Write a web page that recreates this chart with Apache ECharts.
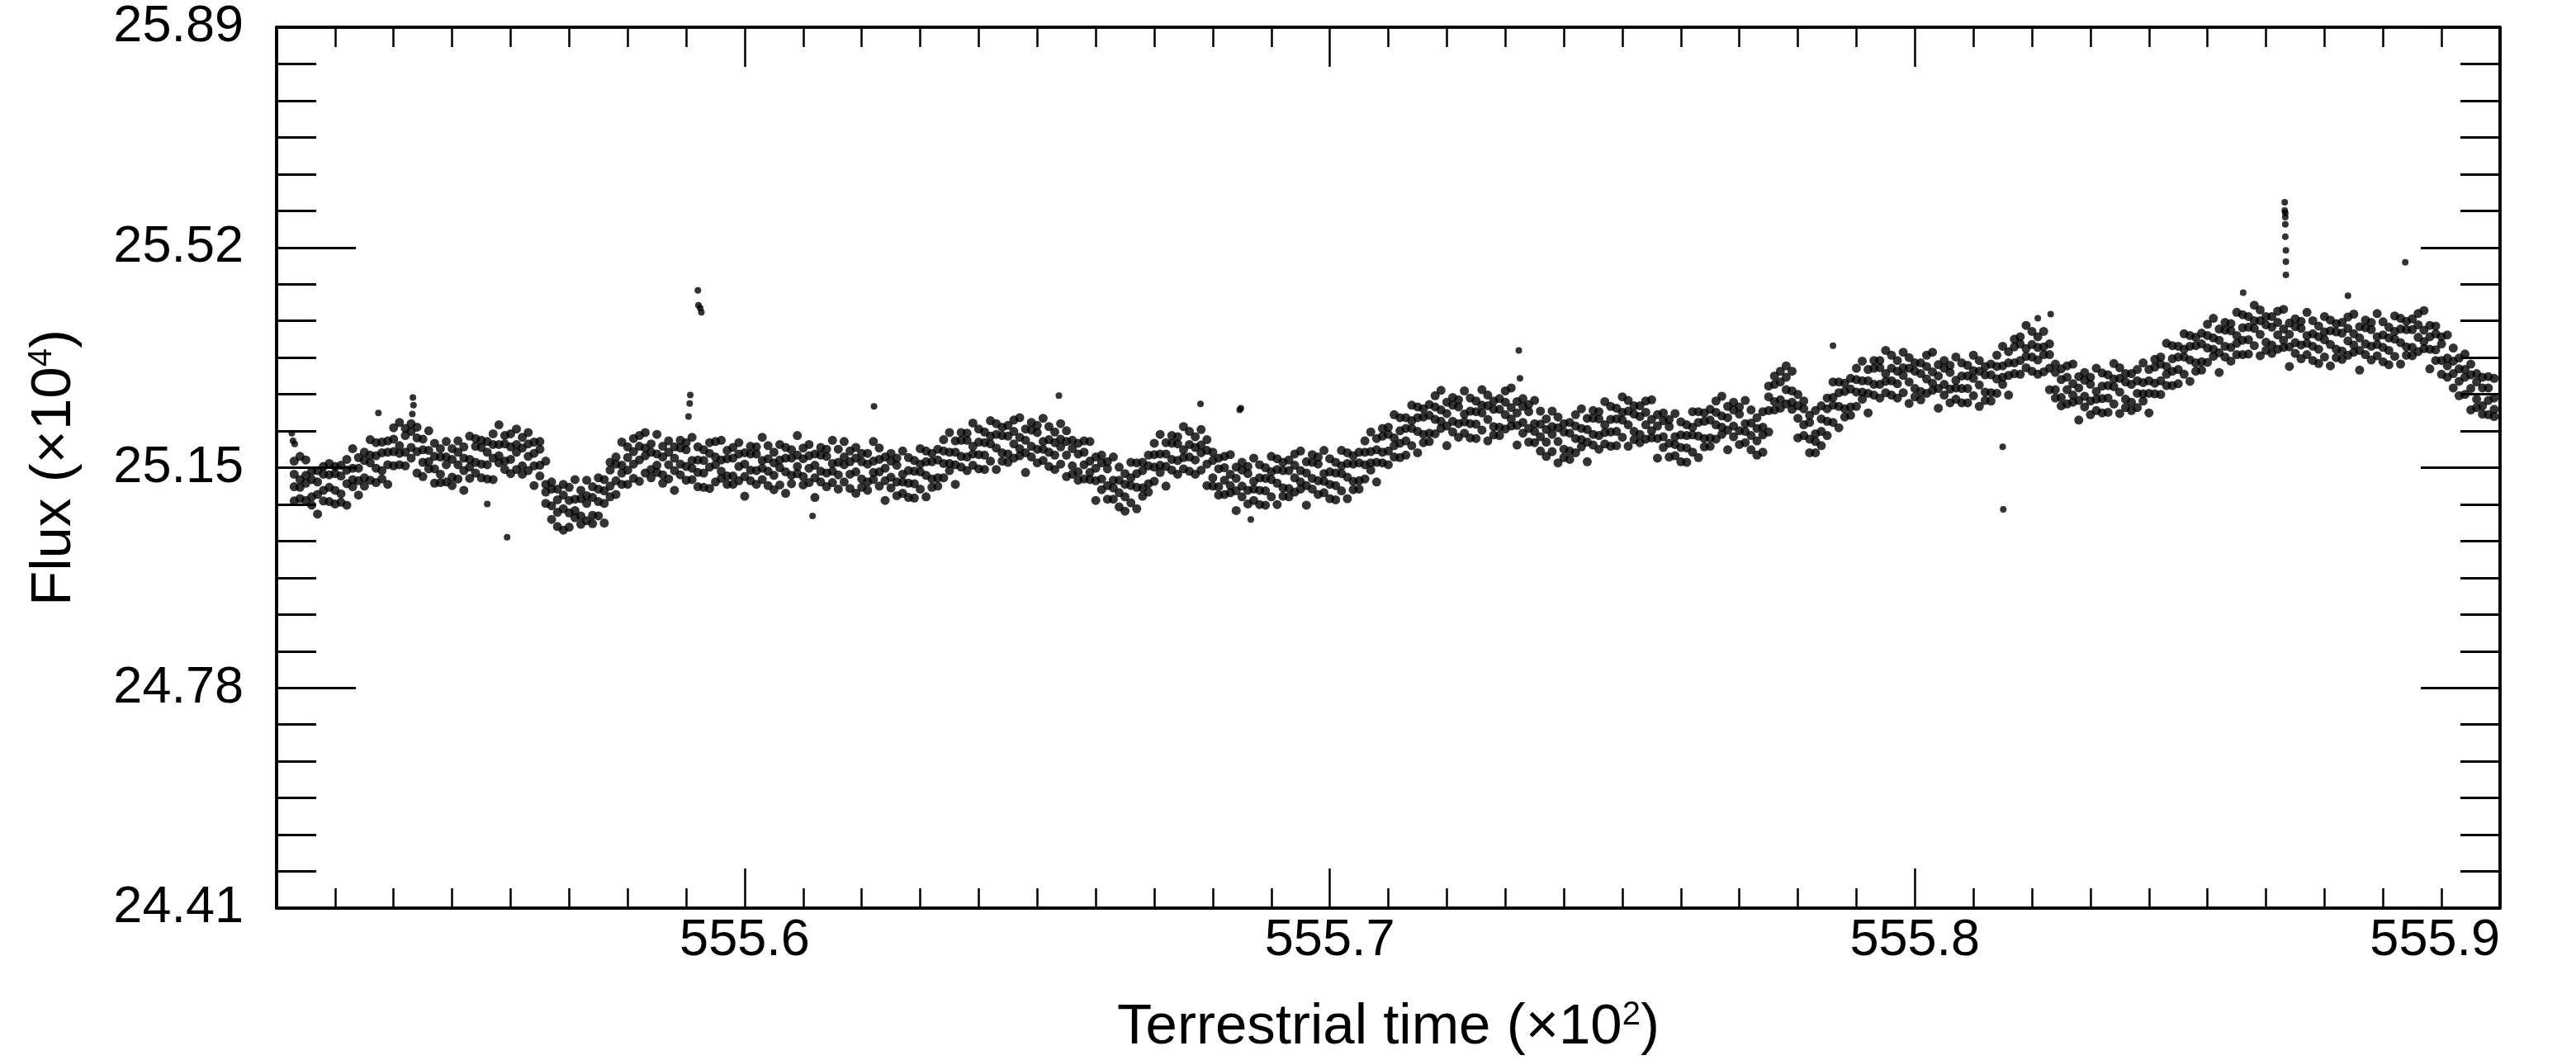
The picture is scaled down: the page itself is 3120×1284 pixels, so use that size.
<!DOCTYPE html>
<html>
<head>
<meta charset="utf-8">
<title>Flux vs terrestrial time</title>
<script src="https://cdn.jsdelivr.net/npm/echarts@6.0.0/dist/echarts.min.js"></script>
<style>
  html, body { margin: 0; padding: 0; background: #fff; }
  #chart { width: 3120px; height: 1284px; }
</style>
</head>
<body>
<div id="chart"></div>
<script>
// time (x10^2), one column per 0.001
const time = [
  555.523,555.524,555.525,555.526,555.527,555.528,555.529,555.530,555.531,555.532,
  555.533,555.534,555.535,555.536,555.537,555.538,555.539,555.540,555.541,555.542,
  555.543,555.544,555.545,555.546,555.547,555.548,555.549,555.550,555.551,555.552,
  555.553,555.554,555.555,555.556,555.557,555.558,555.559,555.560,555.561,555.562,
  555.563,555.564,555.565,555.566,555.567,555.568,555.569,555.570,555.571,555.572,
  555.573,555.574,555.575,555.576,555.577,555.578,555.579,555.580,555.581,555.582,
  555.583,555.584,555.585,555.586,555.587,555.588,555.589,555.590,555.591,555.592,
  555.593,555.594,555.595,555.596,555.597,555.598,555.599,555.600,555.601,555.602,
  555.603,555.604,555.605,555.606,555.607,555.608,555.609,555.610,555.611,555.612,
  555.613,555.614,555.615,555.616,555.617,555.618,555.619,555.620,555.621,555.622,
  555.623,555.624,555.625,555.626,555.627,555.628,555.629,555.630,555.631,555.632,
  555.633,555.634,555.635,555.636,555.637,555.638,555.639,555.640,555.641,555.642,
  555.643,555.644,555.645,555.646,555.647,555.648,555.649,555.650,555.651,555.652,
  555.653,555.654,555.655,555.656,555.657,555.658,555.659,555.660,555.661,555.662,
  555.663,555.664,555.665,555.666,555.667,555.668,555.669,555.670,555.671,555.672,
  555.673,555.674,555.675,555.676,555.677,555.678,555.679,555.680,555.681,555.682,
  555.683,555.684,555.685,555.686,555.687,555.688,555.689,555.690,555.691,555.692,
  555.693,555.694,555.695,555.696,555.697,555.698,555.699,555.700,555.701,555.702,
  555.703,555.704,555.705,555.706,555.707,555.708,555.709,555.710,555.711,555.712,
  555.713,555.714,555.715,555.716,555.717,555.718,555.719,555.720,555.721,555.722,
  555.723,555.724,555.725,555.726,555.727,555.728,555.729,555.730,555.731,555.732,
  555.733,555.734,555.735,555.736,555.737,555.738,555.739,555.740,555.741,555.742,
  555.743,555.744,555.745,555.746,555.747,555.748,555.749,555.750,555.751,555.752,
  555.753,555.754,555.755,555.756,555.757,555.758,555.759,555.760,555.761,555.762,
  555.763,555.764,555.765,555.766,555.767,555.768,555.769,555.770,555.771,555.772,
  555.773,555.774,555.775,555.776,555.777,555.778,555.779,555.780,555.781,555.782,
  555.783,555.784,555.785,555.786,555.787,555.788,555.789,555.790,555.791,555.792,
  555.793,555.794,555.795,555.796,555.797,555.798,555.799,555.800,555.801,555.802,
  555.803,555.804,555.805,555.806,555.807,555.808,555.809,555.810,555.811,555.812,
  555.813,555.814,555.815,555.816,555.817,555.818,555.819,555.820,555.821,555.822,
  555.823,555.824,555.825,555.826,555.827,555.828,555.829,555.830,555.831,555.832,
  555.833,555.834,555.835,555.836,555.837,555.838,555.839,555.840,555.841,555.842,
  555.843,555.844,555.845,555.846,555.847,555.848,555.849,555.850,555.851,555.852,
  555.853,555.854,555.855,555.856,555.857,555.858,555.859,555.860,555.861,555.862,
  555.863,555.864,555.865,555.866,555.867,555.868,555.869,555.870,555.871,555.872,
  555.873,555.874,555.875,555.876,555.877,555.878,555.879,555.880,555.881,555.882,
  555.883,555.884,555.885,555.886,555.887,555.888,555.889,555.890,555.891,555.892,
  555.893,555.894,555.895,555.896,555.897,555.898,555.899
];

// flux (x10^4): the points seen in each time column
const flux = [
  [25.094,25.118,25.139,25.161],[25.098,25.117,25.130,25.169],[25.095,25.124,25.137,25.163],[25.087,25.101,25.130,25.144],[25.072,25.105,25.126,25.145],
  [25.094,25.112,25.139,25.152],[25.093,25.117,25.138,25.157],[25.089,25.112,25.140,25.152],[25.092,25.106,25.136,25.154],[25.087,25.123,25.146,25.164],
  [25.118,25.130,25.149,25.182],[25.104,25.128,25.149,25.167],[25.119,25.133,25.162,25.176],[25.129,25.158,25.171,25.197],[25.125,25.149,25.170,25.192],
  [25.131,25.145,25.175,25.193],[25.122,25.155,25.176,25.195],[25.153,25.177,25.198,25.217],[25.155,25.174,25.187,25.226],[25.153,25.176,25.204,25.216],
  [25.166,25.184,25.211,25.224],[25.141,25.177,25.200,25.218],[25.135,25.159,25.180,25.198],[25.148,25.160,25.179,25.212],[25.124,25.148,25.169,25.191],
  [25.125,25.139,25.168,25.182],[25.126,25.155,25.168,25.194],[25.120,25.134,25.164,25.182],[25.131,25.155,25.176,25.195],[25.112,25.145,25.166,25.185],
  [25.132,25.151,25.164,25.203],[25.141,25.159,25.186,25.199],[25.133,25.156,25.184,25.196],[25.131,25.155,25.176,25.194],[25.130,25.166,25.189,25.207],
  [25.158,25.170,25.189,25.222],[25.147,25.161,25.190,25.204],[25.140,25.164,25.185,25.207],[25.147,25.176,25.189,25.215],[25.139,25.153,25.183,25.201],
  [25.145,25.169,25.190,25.209],[25.120,25.153,25.174,25.193],[25.136,25.154,25.181,25.194],[25.090,25.109,25.122,25.161],[25.063,25.086,25.114,25.126],
  [25.051,25.075,25.096,25.114],[25.045,25.081,25.104,25.122],[25.050,25.074,25.095,25.117],[25.066,25.078,25.097,25.130],[25.055,25.069,25.098,25.112],
  [25.061,25.090,25.103,25.129],[25.056,25.070,25.100,25.118],[25.069,25.093,25.114,25.133],[25.057,25.090,25.111,25.130],[25.101,25.119,25.146,25.159],
  [25.105,25.128,25.156,25.168],[25.122,25.141,25.154,25.193],[25.122,25.146,25.167,25.185],[25.132,25.156,25.177,25.199],[25.127,25.163,25.186,25.204],
  [25.141,25.170,25.183,25.209],[25.133,25.147,25.176,25.190],[25.142,25.154,25.173,25.206],[25.124,25.138,25.168,25.186],[25.131,25.155,25.176,25.195],
  [25.112,25.145,25.166,25.185],[25.138,25.156,25.183,25.196],[25.129,25.152,25.180,25.192],[25.130,25.149,25.162,25.201],[25.118,25.142,25.163,25.185],
  [25.117,25.141,25.162,25.180],[25.115,25.151,25.174,25.192],[25.126,25.155,25.168,25.194],[25.132,25.144,25.163,25.196],[25.122,25.136,25.165,25.179],
  [25.122,25.136,25.166,25.184],[25.128,25.152,25.173,25.192],[25.102,25.135,25.156,25.175],[25.128,25.146,25.173,25.186],[25.122,25.145,25.173,25.185],
  [25.130,25.149,25.162,25.201],[25.120,25.144,25.165,25.187],[25.113,25.137,25.158,25.176],[25.121,25.150,25.163,25.189],[25.107,25.143,25.166,25.184],
  [25.123,25.137,25.166,25.180],[25.140,25.152,25.171,25.204],[25.121,25.135,25.165,25.183],[25.125,25.149,25.170,25.189],[25.100,25.133,25.154,25.173],
  [25.126,25.144,25.171,25.184],[25.118,25.141,25.169,25.181],[25.125,25.144,25.157,25.196],[25.114,25.138,25.159,25.181],[25.126,25.155,25.168,25.194],
  [25.115,25.139,25.160,25.178],[25.107,25.143,25.166,25.184],[25.117,25.131,25.160,25.174],[25.112,25.126,25.156,25.174],[25.130,25.142,25.161,25.194],
  [25.119,25.143,25.164,25.183],[25.095,25.128,25.149,25.168],[25.116,25.134,25.161,25.174],[25.103,25.126,25.154,25.166],[25.107,25.126,25.139,25.178],
  [25.100,25.124,25.145,25.167],[25.099,25.123,25.144,25.162],[25.114,25.143,25.156,25.182],[25.101,25.137,25.160,25.178],[25.117,25.131,25.160,25.174],
  [25.119,25.133,25.163,25.181],[25.133,25.157,25.178,25.197],[25.145,25.157,25.176,25.209],[25.122,25.155,25.176,25.195],[25.151,25.169,25.196,25.209],
  [25.145,25.168,25.196,25.208],[25.154,25.173,25.186,25.225],[25.148,25.172,25.193,25.215],[25.147,25.171,25.192,25.210],[25.161,25.190,25.203,25.229],
  [25.147,25.183,25.206,25.224],[25.161,25.175,25.204,25.218],[25.159,25.173,25.203,25.221],[25.166,25.190,25.211,25.230],[25.170,25.182,25.201,25.234],
  [25.142,25.175,25.196,25.215],[25.168,25.186,25.213,25.226],[25.158,25.181,25.209,25.221],[25.162,25.181,25.194,25.233],[25.152,25.176,25.197,25.219],
  [25.147,25.171,25.192,25.210],[25.156,25.185,25.198,25.224],[25.135,25.171,25.194,25.212],[25.139,25.153,25.182,25.196],[25.129,25.143,25.173,25.191],
  [25.131,25.155,25.176,25.195],[25.130,25.142,25.161,25.194],[25.095,25.128,25.149,25.168],[25.113,25.131,25.158,25.171],[25.097,25.120,25.148,25.160],
  [25.097,25.116,25.129,25.168],[25.084,25.108,25.129,25.151],[25.077,25.101,25.122,25.140],[25.091,25.120,25.133,25.159],[25.081,25.117,25.140,25.158],
  [25.102,25.116,25.145,25.159],[25.109,25.123,25.153,25.171],[25.127,25.151,25.172,25.191],[25.142,25.154,25.173,25.206],[25.119,25.152,25.173,25.192],
  [25.146,25.164,25.191,25.204],[25.139,25.162,25.190,25.202],[25.148,25.167,25.180,25.219],[25.144,25.168,25.189,25.211],[25.139,25.163,25.184,25.202],
  [25.146,25.175,25.188,25.214],[25.120,25.156,25.179,25.197],[25.119,25.133,25.162,25.176],[25.104,25.118,25.148,25.166],[25.105,25.129,25.150,25.169],
  [25.108,25.120,25.139,25.172],[25.078,25.111,25.132,25.151],[25.101,25.119,25.146,25.159],[25.089,25.112,25.140,25.152],[25.095,25.114,25.127,25.166],
  [25.088,25.112,25.133,25.155],[25.087,25.111,25.132,25.150],[25.101,25.130,25.143,25.169],[25.088,25.124,25.147,25.165],[25.102,25.116,25.145,25.159],
  [25.101,25.115,25.145,25.163],[25.109,25.133,25.154,25.173],[25.114,25.126,25.145,25.178],[25.087,25.120,25.141,25.160],[25.114,25.132,25.159,25.172],
  [25.105,25.128,25.156,25.168],[25.108,25.127,25.140,25.179],[25.098,25.122,25.143,25.165],[25.096,25.120,25.141,25.159],[25.111,25.140,25.153,25.179],
  [25.098,25.134,25.157,25.175],[25.113,25.127,25.156,25.170],[25.114,25.128,25.158,25.176],[25.131,25.155,25.176,25.195],[25.146,25.158,25.177,25.210],
  [25.126,25.159,25.180,25.199],[25.158,25.176,25.203,25.216],[25.155,25.178,25.206,25.218],[25.168,25.187,25.200,25.239],[25.167,25.191,25.212,25.234],
  [25.171,25.195,25.216,25.234],[25.187,25.216,25.229,25.255],[25.175,25.211,25.234,25.252],[25.192,25.206,25.235,25.249],[25.194,25.208,25.238,25.256],
  [25.207,25.231,25.252,25.271],[25.216,25.228,25.247,25.280],[25.187,25.220,25.241,25.260],[25.210,25.228,25.255,25.268],[25.201,25.224,25.252,25.264],
  [25.208,25.227,25.240,25.279],[25.200,25.224,25.245,25.267],[25.199,25.223,25.244,25.262],[25.213,25.242,25.255,25.281],[25.195,25.231,25.254,25.272],
  [25.205,25.219,25.248,25.262],[25.204,25.218,25.248,25.266],[25.215,25.239,25.260,25.279],[25.220,25.232,25.251,25.284],[25.188,25.221,25.242,25.261],
  [25.208,25.226,25.253,25.266],[25.193,25.216,25.244,25.256],[25.192,25.211,25.224,25.263],[25.178,25.202,25.223,25.245],[25.169,25.193,25.214,25.232],
  [25.177,25.206,25.219,25.245],[25.158,25.194,25.217,25.235],[25.167,25.181,25.210,25.224],[25.164,25.178,25.208,25.226],[25.175,25.199,25.220,25.239],
  [25.185,25.197,25.216,25.249],[25.160,25.193,25.214,25.233],[25.188,25.206,25.233,25.246],[25.181,25.204,25.232,25.244],[25.190,25.209,25.222,25.261],
  [25.186,25.210,25.231,25.253],[25.187,25.211,25.232,25.250],[25.201,25.230,25.243,25.269],[25.186,25.222,25.245,25.263],[25.197,25.211,25.240,25.254],
  [25.192,25.206,25.236,25.254],[25.198,25.222,25.243,25.262],[25.200,25.212,25.231,25.264],[25.166,25.199,25.220,25.239],[25.184,25.202,25.229,25.242],
  [25.168,25.191,25.219,25.231],[25.170,25.189,25.202,25.241],[25.160,25.184,25.205,25.227],[25.159,25.183,25.204,25.222],[25.176,25.205,25.218,25.244],
  [25.167,25.203,25.226,25.244],[25.185,25.199,25.228,25.242],[25.186,25.200,25.230,25.248],[25.198,25.222,25.243,25.262],[25.206,25.218,25.237,25.270],
  [25.180,25.213,25.234,25.253],[25.202,25.220,25.247,25.260],[25.189,25.212,25.240,25.252],[25.192,25.211,25.224,25.263],[25.180,25.204,25.225,25.247],
  [25.171,25.195,25.216,25.234],[25.176,25.205,25.218,25.244],[25.210,25.246,25.269,25.287],[25.247,25.261,25.290,25.304],[25.250,25.264,25.294,25.312],
  [25.257,25.281,25.302,25.321],[25.248,25.260,25.279,25.312],[25.200,25.233,25.254,25.273],[25.204,25.222,25.249,25.262],[25.175,25.198,25.226,25.238],
  [25.175,25.194,25.207,25.246],[25.187,25.211,25.232,25.254],[25.204,25.228,25.249,25.267],[25.226,25.255,25.268,25.294],[25.217,25.253,25.276,25.294],
  [25.235,25.249,25.278,25.292],[25.238,25.252,25.282,25.300],[25.253,25.277,25.298,25.317],[25.265,25.277,25.296,25.329],[25.242,25.275,25.296,25.315],
  [25.272,25.290,25.317,25.330],[25.267,25.290,25.318,25.330],[25.276,25.295,25.308,25.347],[25.272,25.296,25.317,25.339],[25.267,25.291,25.312,25.330],
  [25.276,25.305,25.318,25.344],[25.258,25.294,25.317,25.335],[25.269,25.283,25.312,25.326],[25.264,25.278,25.308,25.326],[25.275,25.299,25.320,25.339],
  [25.280,25.292,25.311,25.344],[25.250,25.283,25.304,25.323],[25.272,25.290,25.317,25.330],[25.259,25.282,25.310,25.322],[25.265,25.284,25.297,25.336],
  [25.259,25.283,25.304,25.326],[25.259,25.283,25.304,25.322],[25.271,25.300,25.313,25.339],[25.253,25.289,25.312,25.330],[25.263,25.277,25.306,25.320],
  [25.262,25.276,25.306,25.324],[25.275,25.299,25.320,25.339],[25.290,25.302,25.321,25.354],[25.272,25.305,25.326,25.345],[25.308,25.326,25.353,25.366],
  [25.307,25.330,25.358,25.370],[25.318,25.337,25.350,25.389],[25.312,25.336,25.357,25.379],[25.307,25.331,25.352,25.370],[25.311,25.340,25.353,25.379],
  [25.281,25.317,25.340,25.358],[25.267,25.281,25.310,25.324],[25.254,25.268,25.298,25.316],[25.257,25.281,25.302,25.321],[25.260,25.272,25.291,25.324],
  [25.230,25.263,25.284,25.303],[25.252,25.270,25.297,25.310],[25.239,25.262,25.290,25.302],[25.246,25.265,25.278,25.317],[25.242,25.266,25.287,25.309],
  [25.243,25.267,25.288,25.306],[25.257,25.286,25.299,25.325],[25.241,25.277,25.300,25.318],[25.251,25.265,25.294,25.308],[25.246,25.260,25.290,25.308],
  [25.251,25.275,25.296,25.315],[25.262,25.274,25.293,25.326],[25.242,25.275,25.296,25.315],[25.274,25.292,25.319,25.332],[25.273,25.296,25.324,25.336],
  [25.288,25.307,25.320,25.359],[25.288,25.312,25.333,25.355],[25.291,25.315,25.336,25.354],[25.307,25.336,25.349,25.375],[25.295,25.331,25.354,25.372],
  [25.312,25.326,25.355,25.369],[25.314,25.328,25.358,25.376],[25.327,25.351,25.372,25.391],[25.337,25.349,25.368,25.401],[25.310,25.343,25.364,25.383],
  [25.336,25.354,25.381,25.394],[25.329,25.352,25.380,25.392],[25.340,25.359,25.372,25.411],[25.340,25.364,25.385,25.407],[25.341,25.365,25.386,25.404],
  [25.355,25.384,25.397,25.423],[25.338,25.374,25.397,25.415],[25.347,25.361,25.390,25.404],[25.342,25.356,25.386,25.404],[25.349,25.373,25.394,25.413],
  [25.352,25.364,25.383,25.416],[25.320,25.353,25.374,25.393],[25.342,25.360,25.387,25.400],[25.333,25.356,25.384,25.396],[25.340,25.359,25.372,25.411],
  [25.330,25.354,25.375,25.397],[25.325,25.349,25.370,25.388],[25.336,25.365,25.378,25.404],[25.321,25.357,25.380,25.398],[25.335,25.349,25.378,25.392],
  [25.332,25.346,25.376,25.394],[25.339,25.363,25.384,25.403],[25.344,25.356,25.375,25.408],[25.314,25.347,25.368,25.387],[25.340,25.358,25.385,25.398],
  [25.331,25.354,25.382,25.394],[25.338,25.357,25.370,25.409],[25.328,25.352,25.373,25.395],[25.323,25.347,25.368,25.386],[25.337,25.366,25.379,25.405],
  [25.324,25.360,25.383,25.401],[25.339,25.353,25.382,25.396],[25.338,25.352,25.382,25.400],[25.345,25.369,25.390,25.409],[25.350,25.362,25.381,25.414],
  [25.316,25.349,25.370,25.389],[25.330,25.348,25.375,25.388],[25.307,25.330,25.358,25.370],[25.302,25.321,25.334,25.373],[25.284,25.308,25.329,25.351],
  [25.271,25.295,25.316,25.334],[25.273,25.302,25.315,25.341],[25.247,25.283,25.306,25.324],[25.251,25.265,25.294,25.308],[25.240,25.254,25.284,25.302],
  [25.239,25.263,25.284,25.303],[25.236,25.248,25.267,25.300]
];

// stray points away from the band
const outlierTime = [
  555.5226, 555.5228, 555.5231, 555.5374, 555.5432, 555.5433, 555.5434, 555.5560, 555.5594,
  555.5904, 555.5906, 555.5907, 555.5920, 555.5921, 555.5924, 555.5926, 555.6116, 555.6221,
  555.6537, 555.6779, 555.6846, 555.6848, 555.6865, 555.7323, 555.7325, 555.7860, 555.8150,
  555.8151, 555.8210, 555.8232, 555.8561,
  555.8632, 555.8632, 555.8633, 555.8633, 555.8633, 555.8633, 555.8634, 555.8634, 555.8634,
  555.8740, 555.8838
];
const outlierFlux = [
  25.208, 25.195, 25.190, 25.242, 25.240, 25.268, 25.255, 25.089, 25.033,
  25.236, 25.258, 25.272, 25.448, 25.423, 25.418, 25.411, 25.069, 25.253,
  25.271, 25.257, 25.247, 25.250, 25.063, 25.347, 25.300, 25.355, 25.185,
  25.080, 25.401, 25.408, 25.444,
  25.596, 25.582, 25.578, 25.571, 25.559, 25.538, 25.515, 25.496, 25.474,
  25.439, 25.495
];

const timeTicks = [555.6, 555.7, 555.8, 555.9];
const fluxTicks = [24.41, 24.78, 25.15, 25.52, 25.89];
const timeMin = 555.52, timeMax = 555.9;

// minor ticks: every 0.01 in time, six steps between flux labels
const timeMinor = [];
for (let k = 1; k < 38; k++) timeMinor.push(+(timeMin + k * 0.01).toFixed(2));
const fluxMinor = [];
for (let i = 0; i < fluxTicks.length - 1; i++) {
  for (let k = 1; k < 6; k++) fluxMinor.push(fluxTicks[i] + k * (fluxTicks[i + 1] - fluxTicks[i]) / 6);
}

const bandPoints = [];
time.forEach((t, i) => (flux[i] || []).forEach(f => bandPoints.push([t, f])));
const strayPoints = outlierTime.map((t, i) => [t, outlierFlux[i]]);

const FONT = '"Liberation Sans", Arial, Helvetica, sans-serif';
const supStyle = { fontSize: 40, fontFamily: FONT, color: '#000', verticalAlign: 'top', lineHeight: 40 };

function xAxisAt(position, ticks, len, extra) {
  return Object.assign({
    type: 'value', position, min: timeMin, max: timeMax,
    axisLine: { show: true, onZero: false, lineStyle: { color: '#000', width: 3.5 } },
    axisTick: { show: true, inside: true, length: len, customValues: ticks, lineStyle: { color: '#000', width: 2.5 } },
    axisLabel: { show: false },
    splitLine: { show: false }
  }, extra || {});
}
function yAxisAt(position, ticks, len, extra) {
  return Object.assign({
    type: 'value', position, min: 24.41, max: 25.89,
    axisLine: { show: true, onZero: false, lineStyle: { color: '#000', width: 3.5 } },
    axisTick: { show: true, inside: true, length: len, customValues: ticks, lineStyle: { color: '#000', width: 3 } },
    axisLabel: { show: false },
    splitLine: { show: false }
  }, extra || {});
}

const chart = echarts.init(document.getElementById('chart'), null, { renderer: 'canvas' });
chart.setOption({
  backgroundColor: '#fff',
  animation: false,
  grid: { left: 335, right: 92, top: 33, bottom: 184, containLabel: false, outerBoundsMode: 'none' },
  xAxis: [
    xAxisAt('bottom', timeTicks, 48, {
      axisLabel: {
        show: true, customValues: timeTicks, margin: 8,
        fontSize: 63, fontFamily: FONT, color: '#000',
        alignMaxLabel: 'right',
        formatter: v => v.toFixed(1)
      },
      name: 'Terrestrial time (×10{sup|2})',
      nameLocation: 'middle',
      nameGap: 110,
      nameTextStyle: { fontSize: 69, fontFamily: FONT, color: '#000', rich: { sup: supStyle } }
    }),
    xAxisAt('bottom', timeMinor, 24),
    xAxisAt('top', timeTicks, 48),
    xAxisAt('top', timeMinor, 24)
  ],
  yAxis: [
    yAxisAt('left', fluxTicks, 96, {
      axisLabel: {
        show: true, customValues: fluxTicks, margin: 40,
        fontSize: 63, fontFamily: FONT, color: '#000',
        formatter: v => v.toFixed(2)
      },
      name: 'Flux (×10{sup|4})',
      nameLocation: 'middle',
      nameGap: 235,
      nameTextStyle: { fontSize: 69, fontFamily: FONT, color: '#000', rich: { sup: supStyle } }
    }),
    yAxisAt('left', fluxMinor, 48),
    yAxisAt('right', fluxTicks, 96),
    yAxisAt('right', fluxMinor, 48)
  ],
  series: [{
    type: 'scatter',
    name: 'band',
    data: bandPoints,
    symbol: 'circle',
    symbolSize: 11,
    itemStyle: { color: '#000' },
    silent: true
  }, {
    type: 'scatter',
    name: 'stray',
    data: strayPoints,
    symbol: 'circle',
    symbolSize: 8,
    itemStyle: { color: '#000' },
    silent: true
  }]
});
</script>
</body>
</html>
